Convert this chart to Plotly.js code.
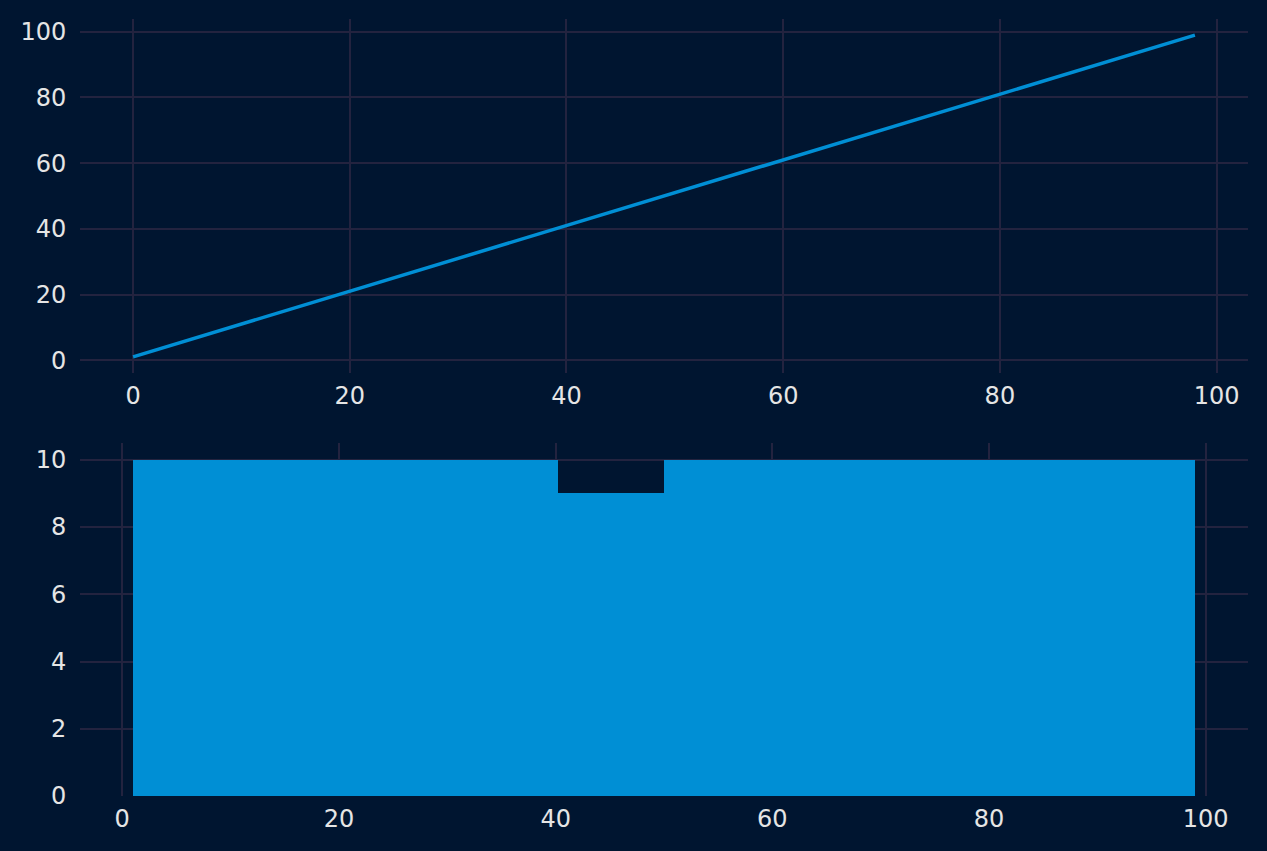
<!DOCTYPE html>
<html>
<head>
<meta charset="utf-8">
<script src="https://cdn.plot.ly/plotly-3.0.1.min.js"></script>
<style>html,body{margin:0;padding:0;background:#001530;}</style>
</head>
<body>
<div id="chart" style="width:1267px;height:851px;"></div>
<script>
// Top panel: line series (index vs value)
const lineX = [0,1,2,3,4,5,6,7,8,9,10,11,12,13,14,15,16,17,18,19,20,21,22,23,24,25,26,27,28,29,30,31,32,33,34,35,36,37,38,39,40,41,42,43,44,45,46,47,48,49,50,51,52,53,54,55,56,57,58,59,60,61,62,63,64,65,66,67,68,69,70,71,72,73,74,75,76,77,78,79,80,81,82,83,84,85,86,87,88,89,90,91,92,93,94,95,96,97,98];
const lineY = [1,2,3,4,5,6,7,8,9,10,11,12,13,14,15,16,17,18,19,20,21,22,23,24,25,26,27,28,29,30,31,32,33,34,35,36,37,38,39,40,41,42,43,44,45,46,47,48,49,50,51,52,53,54,55,56,57,58,59,60,61,62,63,64,65,66,67,68,69,70,71,72,73,74,75,76,77,78,79,80,81,82,83,84,85,86,87,88,89,90,91,92,93,94,95,96,97,98,99];

// Bottom panel: histogram bins
const binEdges = [1, 10.8, 20.6, 30.4, 40.2, 50, 59.8, 69.6, 79.4, 89.2, 99];
const binCounts = [10, 10, 10, 10, 9, 10, 10, 10, 10, 10];

const binCenters = binCounts.map((_, i) => (binEdges[i] + binEdges[i+1]) / 2);
const binWidths = binCounts.map((_, i) => binEdges[i+1] - binEdges[i]);

const BG = '#001530';
const GRID = '#23233f';
const BLUE = '#008fd5';
const TXT = '#e5e5e5';
const W = 1267, H = 851;

const axBase = {
  showgrid: true, gridcolor: GRID, gridwidth: 2,
  zeroline: false, showline: false,
  ticks: 'outside', tickcolor: 'rgba(0,0,0,0)',
  tickfont: {family: 'DejaVu Sans', size: 24, color: TXT},
  fixedrange: true
};
const xBase = Object.assign({}, axBase, {ticklen: 1});
const yBase = Object.assign({}, axBase, {ticklen: 8});

const data = [
  {type: 'scatter', mode: 'lines', x: lineX, y: lineY, xaxis: 'x', yaxis: 'y',
   line: {color: BLUE, width: 3.5}, hoverinfo: 'skip'},
  {type: 'bar', x: binCenters, y: binCounts, width: binWidths, xaxis: 'x2', yaxis: 'y2',
   marker: {color: BLUE, line: {width: 0}}, hoverinfo: 'skip'}
];

const layout = {
  width: W, height: H,
  paper_bgcolor: BG, plot_bgcolor: BG,
  margin: {l: 0, r: 0, t: 0, b: 0},
  showlegend: false,
  bargap: 0,
  xaxis: Object.assign({}, xBase, {domain: [80/W, 1248/W], range: [-4.9, 102.9], tickvals: [0,20,40,60,80,100], anchor: 'y'}),
  yaxis: Object.assign({}, yBase, {domain: [(H-373)/H, (H-19)/H], range: [-3.9, 103.9], tickvals: [0,20,40,60,80,100], anchor: 'x'}),
  xaxis2: Object.assign({}, xBase, {domain: [80/W, 1248/W], range: [-3.9, 103.9], tickvals: [0,20,40,60,80,100], anchor: 'y2'}),
  yaxis2: Object.assign({}, yBase, {domain: [(H-796)/H, (H-443)/H], range: [0, 10.5], tickvals: [0,2,4,6,8,10], anchor: 'x2'})
};

Plotly.newPlot('chart', data, layout, {displayModeBar: false, staticPlot: true});
</script>
</body>
</html>
